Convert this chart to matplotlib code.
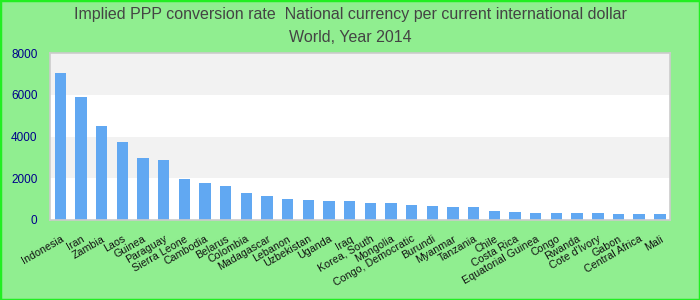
import matplotlib
matplotlib.use("Agg")
import matplotlib.pyplot as plt
from matplotlib.patches import Rectangle

plt.rcParams["font.family"] = ["Liberation Sans", "DejaVu Sans"]

countries = [
    "Indonesia", "Iran", "Zambia", "Laos", "Guinea", "Paraguay", "Sierra Leone",
    "Cambodia", "Belarus", "Colombia", "Madagascar", "Lebanon", "Uzbekistan",
    "Uganda", "Iraq", "Korea, South", "Mongolia", "Congo, Democratic", "Burundi",
    "Myanmar", "Tanzania", "Chile", "Costa Rica", "Equatorial Guinea", "Congo",
    "Rwanda", "Cote d'Ivory", "Gabon", "Central Africa", "Mali",
]
ppp_rate = [
    7056, 5904, 4512, 3744, 2976, 2880, 1968,
    1776, 1632, 1294, 1150, 1006, 958,
    910, 910, 815, 815, 719, 671,
    623, 623, 431, 383, 335, 335,
    335, 335, 288, 288, 288,
]
yticks = [0, 2000, 4000, 6000, 8000]
title = "Implied PPP conversion rate  National currency per current international dollar\nWorld, Year 2014"

fig = plt.figure(figsize=(7, 3), dpi=100, facecolor="#90ee90")
ax = fig.add_axes([0.0714, 0.267, 0.886, 0.556])
ax.set_facecolor("white")

# alternating horizontal bands
for i, (lo, hi) in enumerate(zip(yticks[:-1], yticks[1:])):
    if i % 2 == 1:
        ax.axhspan(lo, hi, color="#f2f2f2", zorder=0, lw=0)

x = list(range(len(countries)))
ax.bar(x, ppp_rate, width=0.55, color="#61a8f2", zorder=2)

ax.set_xlim(-0.5, len(countries) - 0.5)
ax.set_ylim(0, 8000)
ax.set_yticks(yticks)
ax.set_yticklabels([str(v) for v in yticks], color="#00008b", fontsize=8.5)
ax.set_xticks(x)
ax.set_xticklabels(countries, rotation=30, ha="right", rotation_mode="anchor",
                   fontsize=7.7, color="#111111")
ax.tick_params(axis="both", length=0)
ax.tick_params(axis="y", pad=9)
ax.tick_params(axis="x", pad=10)
for side in ax.spines.values():
    side.set_color("#cccccc")
    side.set_linewidth(1.2)

fig.text(0.5, 0.975, title, ha="center", va="top", fontsize=11.5,
         color="#444444", linespacing=1.6)

fig.patches.append(Rectangle((0, 0), 1, 1, transform=fig.transFigure,
                             fill=False, edgecolor="#22ee22", lw=2.5))

fig.savefig("out.png", dpi=100, facecolor=fig.get_facecolor())
